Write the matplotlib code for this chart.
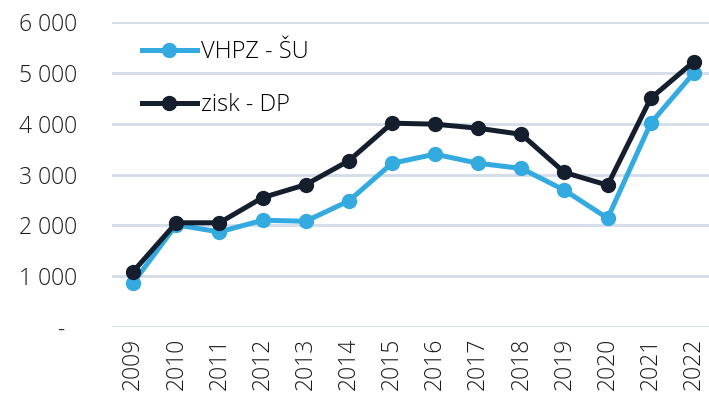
import numpy as np
import matplotlib.pyplot as plt
from matplotlib.ticker import FuncFormatter

plt.rcParams['font.family'] = ['Open Sans', 'DejaVu Sans']
plt.rcParams['font.weight'] = 300

# Data
years = ['2009', '2010', '2011', '2012', '2013', '2014', '2015', '2016',
         '2017', '2018', '2019', '2020', '2021', '2022']
vhpz_su = [870, 2010, 1870, 2100, 2080, 2480, 3220, 3400,
           3220, 3120, 2690, 2140, 4010, 5000]
zisk_dp = [1090, 2050, 2050, 2545, 2800, 3270, 4010, 3990,
           3910, 3790, 3040, 2790, 4500, 5220]

blue = '#33AAE0'
dark = '#141E2D'
grid = '#D3DCE8'

fig = plt.figure(figsize=(7.09, 4.03), dpi=100)
ax = fig.add_axes([112 / 709, 1 - 327 / 403, (709 - 112) / 709, (327 - 22) / 403])

x = np.arange(len(years))
ax.plot(x, vhpz_su, color=blue, lw=3.6, marker='o', ms=10, label='VHPZ - ŠU')
ax.plot(x, zisk_dp, color=dark, lw=3.6, marker='o', ms=10, label='zisk - DP')

ax.set_xlim(-0.49, 13.35)
ax.set_ylim(0, 6000)
ax.set_yticks(np.arange(0, 6001, 1000))


def fmt(v, pos):
    if v == 0:
        return '-  '
    return f'{int(v):,}'.replace(',', ' ')


ax.yaxis.set_major_formatter(FuncFormatter(fmt))
ax.set_xticks(x)
ax.set_xticklabels(years, rotation=90)
ax.tick_params(axis='both', length=0, labelsize=16.5, colors='#1a1a1a')
ax.tick_params(axis='y', pad=25)
ax.tick_params(axis='x', pad=8)

ax.grid(axis='y', color=grid, lw=2)
ax.set_axisbelow(True)
for s in ax.spines.values():
    s.set_visible(False)

leg = ax.legend(loc='upper left', bbox_to_anchor=(0.035, 0.972), frameon=False,
                fontsize=17, labelspacing=1.25, handlelength=2.3,
                handletextpad=0.2, borderaxespad=0)

fig.savefig('out.png', dpi=100)
